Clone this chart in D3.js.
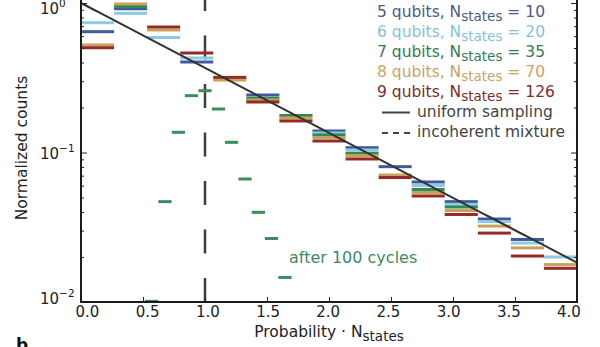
<!DOCTYPE html>
<html>
<head>
<meta charset="utf-8">
<script src="https://cdn.jsdelivr.net/npm/d3@7/dist/d3.min.js"></script>
<style>
  body { margin: 0; background: #fff; }
  svg { display: block; font-family: "DejaVu Sans", sans-serif; }
  text { white-space: pre; }
</style>
</head>
<body>
<svg width="600" height="347"></svg>
<script>
// 15 equal bins of probability·N over [0, 4]
const binEdges = [0, 0.2667, 0.5333, 0.8, 1.0667, 1.3333, 1.6, 1.8667, 2.1333, 2.4, 2.6667, 2.9333, 3.2, 3.4667, 3.7333, 4];

const qubits = [5, 6, 7, 8, 9];
const nStates = [10, 20, 35, 70, 126];
const barColors = ['#3e5c9c', '#8ccae6', '#2f8a55', '#c9a15c', '#962b25'];
const legendColors = ['#4a5b86', '#86c1dc', '#2f7d55', '#c8a465', '#7c2c2c'];

// normalized counts per bin, null where a bin is empty
const counts5 = [0.643, 0.915, null, 0.403, null, 0.2424, null, 0.1393, 0.1077, 0.0804, 0.0635, 0.0469, 0.0359, 0.0262, null];
const counts6 = [0.738, 0.853, 0.588, 0.429, null, null, null, 0.135, 0.1039, null, 0.0602, 0.045, 0.0345, 0.0248, 0.020];
const counts7 = [null, 0.948, null, null, null, 0.2304, 0.1768, 0.131, 0.0988, null, 0.0566, 0.0432, null, null, null];
const counts8 = [0.524, 0.985, 0.66, null, 0.305, 0.2244, 0.1702, 0.126, 0.0952, 0.0707, 0.054, 0.0409, 0.0322, 0.023, 0.0178];
const counts9 = [0.502, null, 0.691, 0.463, 0.318, 0.2177, 0.1625, 0.1194, 0.0905, 0.068, 0.0512, 0.0385, 0.0289, 0.0203, 0.0168];
const allCounts = [counts5, counts6, counts7, counts8, counts9];

// 7 qubits after 100 cycles, finer bins
const cycleCenters = [0.569, 0.677, 0.786, 0.891, 1.0, 1.109, 1.214, 1.323, 1.431, 1.536, 1.645];
const cycleCounts = [0.0101, 0.0469, 0.1365, 0.2399, 0.2591, 0.1954, 0.117, 0.0665, 0.0398, 0.0266, 0.0146];
const cycleWidth = 0.107;

const xTicks = [0, 0.5, 1, 1.5, 2, 2.5, 3, 3.5, 4];
const yMajor = [0.01, 0.1, 1];
const yExponents = ['−2', '−1', '0'];

const svg = d3.select('svg');
const left = 81, right = 577, bottom = 302, topEdge = -4;

const x = d3.scaleLinear().domain([0, 4]).range([left, right]);
const y = d3.scaleLog().domain([0.01, 1]).range([bottom, 3]);
// tick labels are laid out slightly tighter than the ticks themselves
const xLabelPos = d3.scaleLinear().domain([0, 4]).range([87.5, 569]);
const yLabelPos = d3.scaleLog().domain([0.01, 1]).range([298, 8]);

svg.append('defs').append('clipPath').attr('id', 'plot')
    .append('rect')
    .attr('x', left).attr('y', topEdge)
    .attr('width', right - left).attr('height', bottom - topEdge);

const plot = svg.append('g').attr('clip-path', 'url(#plot)');

// incoherent mixture: everything at p·N = 1
plot.append('line')
    .attr('x1', x(1)).attr('x2', x(1))
    .attr('y1', bottom).attr('y2', topEdge)
    .attr('stroke', '#3d3d3d')
    .attr('stroke-width', 2.5)
    .attr('stroke-dasharray', '24 24.5');

allCounts.forEach((counts, s) => {
    const bins = counts
        .map((v, i) => ({v: v, x0: binEdges[i], x1: binEdges[i + 1]}))
        .filter(d => d.v !== null);
    plot.append('g')
        .selectAll('rect')
        .data(bins)
        .enter().append('rect')
        .attr('x', d => x(d.x0))
        .attr('width', d => x(d.x1) - x(d.x0))
        .attr('y', d => y(d.v) - 1.5)
        .attr('height', 3)
        .attr('fill', barColors[s]);
});

plot.append('g')
    .selectAll('rect')
    .data(cycleCenters)
    .enter().append('rect')
    .attr('x', d => x(d - cycleWidth / 2))
    .attr('width', x(cycleWidth) - x(0))
    .attr('y', (d, i) => y(cycleCounts[i]) - 1.5)
    .attr('height', 3)
    .attr('fill', '#3a8d5c');

// uniform sampling (Porter-Thomas)
const pt = d3.range(0, 4.001, 0.05).map(v => [v, Math.exp(-v)]);
plot.append('path')
    .datum(pt)
    .attr('d', d3.line().x(d => x(d[0])).y(d => y(d[1])))
    .attr('fill', 'none')
    .attr('stroke', '#333')
    .attr('stroke-width', 2);

// ticks, pointing inwards
const yMinor = [];
[0.01, 0.1].forEach(dec => {
    for (let k = 2; k <= 9; k++) yMinor.push(dec * k);
});
yMinor.push(1.1);

const axisStyle = g => {
    g.select('.domain').remove();
    g.selectAll('line').attr('stroke', '#222').attr('stroke-width', 1);
};

svg.append('g').attr('transform', `translate(0,${bottom})`)
    .call(d3.axisBottom(x).tickValues(xTicks).tickSize(-5).tickFormat(''))
    .call(axisStyle);
svg.append('g').attr('transform', `translate(${left},0)`)
    .call(d3.axisLeft(y).tickValues(yMajor).tickSize(-6).tickFormat(''))
    .call(axisStyle);
svg.append('g').attr('transform', `translate(${left},0)`)
    .call(d3.axisLeft(y).tickValues(yMinor).tickSize(-3).tickFormat(''))
    .call(axisStyle);
svg.append('g').attr('transform', `translate(${right},0)`)
    .call(d3.axisRight(y).tickValues(yMajor).tickSize(-6).tickFormat(''))
    .call(axisStyle);
svg.append('g').attr('transform', `translate(${right},0)`)
    .call(d3.axisRight(y).tickValues(yMinor).tickSize(-3).tickFormat(''))
    .call(axisStyle);

// frame
svg.append('path')
    .attr('d', `M${left},${topEdge}V${bottom}H${right}V${topEdge}`)
    .attr('fill', 'none')
    .attr('stroke', '#1a1a1a')
    .attr('stroke-width', 2);

// tick labels
svg.append('g')
    .selectAll('text')
    .data(xTicks)
    .enter().append('text')
    .attr('x', d => xLabelPos(d))
    .attr('y', 317)
    .attr('text-anchor', 'middle')
    .attr('font-size', 15)
    .attr('fill', '#222')
    .text(d3.format('.1f'));

const yl = svg.append('g')
    .selectAll('text')
    .data(yMajor)
    .enter().append('text')
    .attr('x', 40)
    .attr('y', d => yLabelPos(d) + 5.5)
    .attr('font-size', 15)
    .attr('fill', '#222');
yl.append('tspan').text('10');
yl.append('tspan')
    .attr('dy', -7)
    .attr('font-size', 10.5)
    .text((d, i) => yExponents[i]);

// axis titles
svg.append('text')
    .attr('transform', 'translate(27,148) rotate(-90)')
    .attr('text-anchor', 'middle')
    .attr('font-size', 15.5)
    .attr('fill', '#222')
    .text('Normalized counts');

const xt = svg.append('text')
    .attr('x', 329)
    .attr('y', 337)
    .attr('text-anchor', 'middle')
    .attr('font-size', 15.5)
    .attr('fill', '#222');
xt.append('tspan').text('Probability · N');
xt.append('tspan').attr('dy', 4).attr('font-size', 13.5).text('states');

svg.append('text')
    .attr('x', 16)
    .attr('y', 351)
    .attr('font-size', 17)
    .attr('font-weight', 'bold')
    .attr('fill', '#111')
    .text('b');

svg.append('text')
    .attr('x', 289)
    .attr('y', 263)
    .attr('font-size', 16)
    .attr('fill', '#3f8a62')
    .text('after 100 cycles');

// legend
const legend = svg.append('g');
const entries = legend.selectAll('text.series')
    .data(qubits)
    .enter().append('text')
    .attr('class', 'series')
    .attr('x', 377)
    .attr('y', (d, i) => 17 + i * 20)
    .attr('font-size', 15.5)
    .attr('fill', (d, i) => legendColors[i]);
entries.append('tspan').text(d => `${d} qubits, N`);
entries.append('tspan').attr('dy', 4).attr('font-size', 13.5).text('states');
entries.append('tspan').attr('dy', -4).text((d, i) => ` = ${nStates[i]}`);

legend.append('line')
    .attr('x1', 382).attr('x2', 410)
    .attr('y1', 112.5).attr('y2', 112.5)
    .attr('stroke', '#444').attr('stroke-width', 2);
legend.append('text')
    .attr('x', 417).attr('y', 117)
    .attr('font-size', 15.5).attr('fill', '#444')
    .text('uniform sampling');

legend.append('line')
    .attr('x1', 382).attr('x2', 410)
    .attr('y1', 133).attr('y2', 133)
    .attr('stroke', '#444').attr('stroke-width', 2)
    .attr('stroke-dasharray', '6 5');
legend.append('text')
    .attr('x', 417).attr('y', 137)
    .attr('font-size', 15.5).attr('fill', '#444')
    .text('incoherent mixture');
</script>
</body>
</html>
